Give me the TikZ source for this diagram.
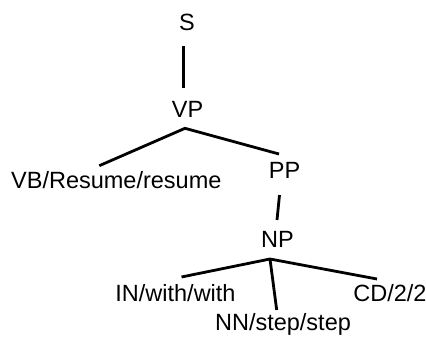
\documentclass[tikz,border=0pt]{standalone}
\usepackage{fontspec}
\setmainfont{Liberation Sans}
\begin{document}
\begin{tikzpicture}[x=1pt,y=-1pt,
  lbl/.style={anchor=base,inner sep=0pt,font=\fontsize{23.5}{28}\selectfont},
  edge/.style={line width=2.8pt,line cap=butt}]
\useasboundingbox (0,0) rectangle (426,338);
\node[lbl] (S) at (187,30) {S};
\node[lbl] (VP) at (187.5,117) {VP};
\node[lbl] (VB) at (116.3,188.3) {VB/Resume/resume};
\node[lbl] (PP) at (284.5,178.7) {PP};
\node[lbl] (NP) at (277.5,247) {NP};
\node[lbl] (IN) at (175.5,301) {IN/with/with};
\node[lbl] (NN) at (283,330) {NN/step/step};
\node[lbl] (CD) at (390,301) {CD/2/2};
% connector end points
\coordinate (Sb) at (183.5,46);
\coordinate (VPt) at (183.5,88);
\coordinate (VPb) at (185,128.3);
\coordinate (VBt) at (99.3,165.7);
\coordinate (PPt) at (279,154);
\coordinate (PPb) at (279.5,195);
\coordinate (NPt) at (277,220);
\coordinate (NPb) at (270,259);
\coordinate (INt) at (181.5,277);
\coordinate (NNt) at (276.7,310);
\coordinate (CDt) at (377,279);
\draw[edge] (Sb) -- (VPt);
\draw[edge] (VBt) -- (VPb) -- (PPt);
\draw[edge] (PPb) -- (NPt);
\draw[edge] (INt) -- (NPb) -- (CDt);
\draw[edge] (NPb) -- (NNt);
\end{tikzpicture}
\end{document}
